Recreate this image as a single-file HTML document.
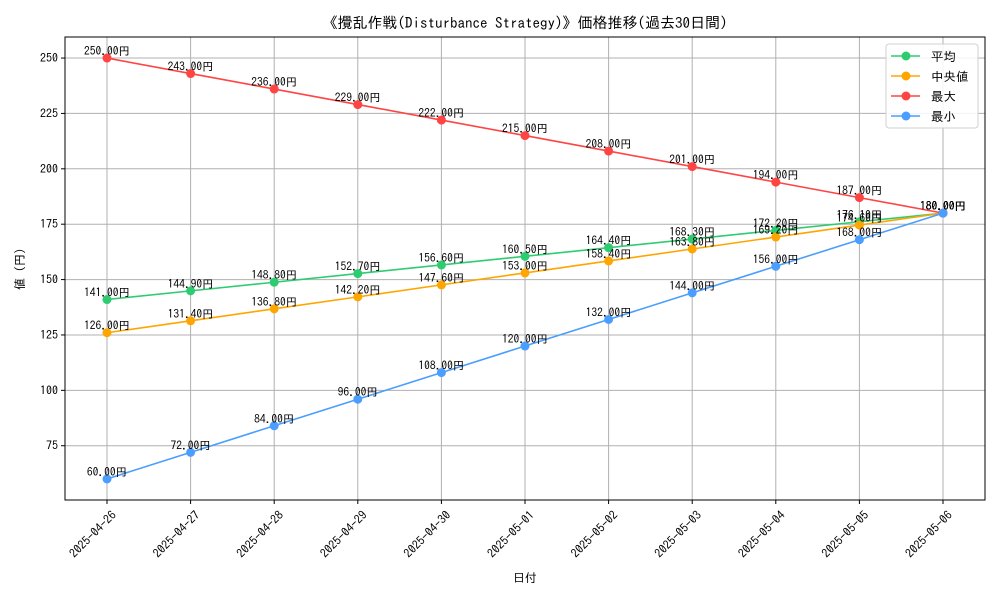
<!DOCTYPE html>
<html><head><meta charset="utf-8">
<style>
body{margin:0;background:#fff;}
svg{display:block;font-family:"IPAGothic","Noto Sans CJK JP","Liberation Sans",sans-serif;}
</style></head>
<body>
<svg id="chart" width="1000" height="600" viewBox="0 0 1000 600" xmlns="http://www.w3.org/2000/svg">
<rect width="1000" height="600" fill="#fff"/>
<text x="525" y="28" font-size="15" text-anchor="middle" fill="#000">《攪乱作戦(Disturbance Strategy)》価格推移(過去30日間)</text>
<g id="grid"></g>
<g id="axes"></g>
<g id="series"></g>
<text x="525" y="582" font-size="12" text-anchor="middle">日付</text>
<text transform="translate(24,269) rotate(-90)" font-size="12" text-anchor="middle">値 (円)</text>
<g id="legend"></g>
</svg>
<script>
const categories=["2025-04-26","2025-04-27","2025-04-28","2025-04-29","2025-04-30","2025-05-01","2025-05-02","2025-05-03","2025-05-04","2025-05-05","2025-05-06"];
const avgValues=[141,144.9,148.8,152.7,156.6,160.5,164.4,168.3,172.2,176.1,180];
const medianValues=[126,131.4,136.8,142.2,147.6,153,158.4,163.8,169.2,174.6,180];
const maxValues=[250,243,236,229,222,215,208,201,194,187,180];
const minValues=[60,72,84,96,108,120,132,144,156,168,180];
const yTicks=[75,100,125,150,175,200,225,250];
const seriesNames=["平均"," 中央値","最大","最小"];

const NS="http://www.w3.org/2000/svg";
const L=65,R=985,T=37,B=500,YMIN=50.5,YMAX=259.5;
const xs=i=>107+i*(943-107)/(categories.length-1);
const ys=v=>B-(v-YMIN)/(YMAX-YMIN)*(B-T);
function mk(tag,attrs,parent){const e=document.createElementNS(NS,tag);for(const k in attrs)e.setAttribute(k,attrs[k]);parent.appendChild(e);return e;}
const grid=document.getElementById('grid'),axes=document.getElementById('axes'),ser=document.getElementById('series');
categories.forEach((c,i)=>{
  const g=mk('line',{x1:xs(i),x2:xs(i),y1:T,y2:B,stroke:'#b0b0b0','stroke-width':1},grid);
  
  
  mk('line',{x1:xs(i),x2:xs(i),y1:B,y2:B+4,stroke:'#000'},axes);
  const t=mk('text',{transform:`translate(${xs(i)+4},${B+10}) rotate(-45)`,'font-size':12,'text-anchor':'end',dy:'0.7em'},axes);
  
  
  t.textContent=c;
});
yTicks.forEach(v=>{
  const g=mk('line',{x1:L,x2:R,y1:ys(v),y2:ys(v),stroke:'#b0b0b0','stroke-width':1},grid);
  
  
  mk('line',{x1:L-4,x2:L,y1:ys(v),y2:ys(v),stroke:'#000'},axes);
  const t=mk('text',{x:L-7,y:ys(v)+4,'font-size':12,'text-anchor':'end'},axes);
  
  
  t.textContent=v;
});
const frame=mk('rect',{x:L,y:T,width:R-L,height:B-T,fill:'none',stroke:'#000','stroke-width':1},axes);



const allSeries=[[avgValues,'#2ecc71','avg'],[medianValues,'#ffa500','median'],[maxValues,'#ff4444','max'],[minValues,'#4a9eff','min']];
allSeries.forEach(([vals,col,key])=>{
  const g=mk('g',{},ser);
  
  
  const p=mk('polyline',{points:vals.map((v,i)=>xs(i)+','+ys(v)).join(' '),fill:'none',stroke:col,'stroke-width':1.6},g);
  
  
  vals.forEach((v,i)=>{
    const c=mk('circle',{cx:xs(i),cy:ys(v),r:4.5,fill:col},g);
    
    
    const t=mk('text',{x:xs(i),y:ys(v)-3,'font-size':11.5,'text-anchor':'middle',fill:'#000'},g);
    
    
    t.textContent=v.toFixed(2)+'円';
  });
});
const lg=document.getElementById('legend');
const lb=mk('rect',{x:886,y:44,width:92,height:84,rx:3,fill:'#fff','fill-opacity':0.85,stroke:'#d0d0d0'},lg);


allSeries.forEach(([vals,col,key],i)=>{
  const y=56+i*20;
  const g=mk('g',{},lg);
  
  
  mk('line',{x1:891,x2:920,y1:y,y2:y,stroke:col,'stroke-width':1.6},g);
  mk('circle',{cx:906,cy:y,r:4.5,fill:col},g);
  const t=mk('text',{x:931,y:y+5,'font-size':12.5},g);
  t.textContent=seriesNames[i];
});
</script>
</body></html>
